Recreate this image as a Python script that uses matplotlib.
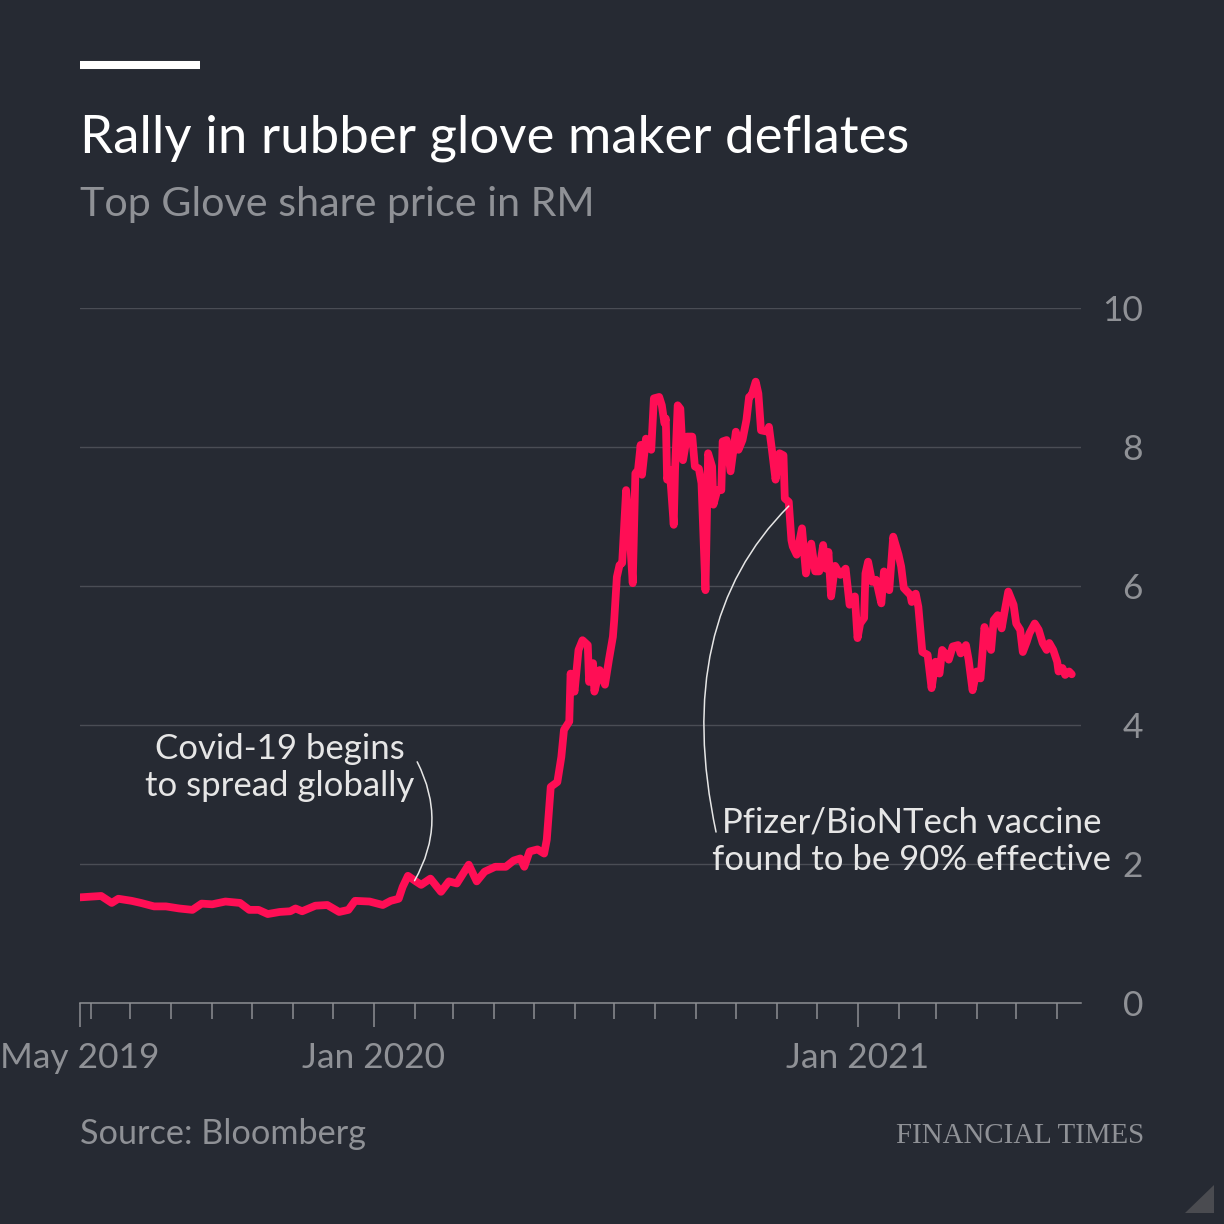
import matplotlib
matplotlib.use("Agg")
import matplotlib.pyplot as plt
from matplotlib.lines import Line2D
from matplotlib.patches import Polygon
import numpy as np

# Top Glove share price (RM)
dates = [
    # 2019
    "2019-05-24", "2019-06-01", "2019-06-09", "2019-06-17", "2019-06-22",
    "2019-07-02", "2019-07-09", "2019-07-19", "2019-07-28",
    "2019-08-07", "2019-08-17", "2019-08-24",
    "2019-09-01", "2019-09-11", "2019-09-22", "2019-09-29",
    "2019-10-06", "2019-10-13", "2019-10-22", "2019-10-30",
    "2019-11-03", "2019-11-08", "2019-11-18", "2019-11-27",
    "2019-12-06", "2019-12-13", "2019-12-18", "2019-12-29",
    # 2020
    "2020-01-08", "2020-01-14", "2020-01-20", "2020-01-23", "2020-01-27", "2020-01-30",
    "2020-02-02", "2020-02-06", "2020-02-13", "2020-02-21", "2020-02-27",
    "2020-03-04", "2020-03-08", "2020-03-13", "2020-03-19", "2020-03-25",
    "2020-04-02", "2020-04-10", "2020-04-16", "2020-04-21", "2020-04-24", "2020-04-28",
    "2020-05-04", "2020-05-09", "2020-05-11", "2020-05-14", "2020-05-19",
    "2020-05-22", "2020-05-24", "2020-05-28", "2020-05-29",
    "2020-06-01", "2020-06-04", "2020-06-07", "2020-06-11", "2020-06-12",
    "2020-06-15", "2020-06-16", "2020-06-20", "2020-06-24", "2020-06-27", "2020-06-30",
    "2020-07-01", "2020-07-03", "2020-07-05", "2020-07-07", "2020-07-10", "2020-07-12",
    "2020-07-15", "2020-07-17", "2020-07-19", "2020-07-21", "2020-07-22", "2020-07-25",
    "2020-07-29", "2020-07-31",
    "2020-08-04", "2020-08-06", "2020-08-08", "2020-08-09", "2020-08-10", "2020-08-12",
    "2020-08-15", "2020-08-16", "2020-08-18", "2020-08-20", "2020-08-22", "2020-08-25",
    "2020-08-29", "2020-08-31",
    "2020-09-03", "2020-09-05", "2020-09-08", "2020-09-10", "2020-09-13", "2020-09-14",
    "2020-09-17", "2020-09-20", "2020-09-21", "2020-09-24", "2020-09-27",
    "2020-10-01", "2020-10-03", "2020-10-06", "2020-10-09", "2020-10-11", "2020-10-13",
    "2020-10-16", "2020-10-18", "2020-10-20", "2020-10-25", "2020-10-26", "2020-10-28",
    "2020-10-31",
    "2020-11-03", "2020-11-06", "2020-11-07", "2020-11-10", "2020-11-12", "2020-11-13",
    "2020-11-16", "2020-11-20", "2020-11-23", "2020-11-27", "2020-11-30",
    "2020-12-03", "2020-12-06", "2020-12-08", "2020-12-10", "2020-12-12", "2020-12-15",
    "2020-12-19", "2020-12-23", "2020-12-26", "2020-12-30",
    # 2021
    "2021-01-01", "2021-01-03", "2021-01-06", "2021-01-07", "2021-01-09", "2021-01-12",
    "2021-01-15", "2021-01-19", "2021-01-21", "2021-01-25", "2021-01-28",
    "2021-02-01", "2021-02-03", "2021-02-05", "2021-02-10", "2021-02-11", "2021-02-14",
    "2021-02-16", "2021-02-19", "2021-02-23", "2021-02-26",
    "2021-03-01", "2021-03-04", "2021-03-06", "2021-03-09", "2021-03-11", "2021-03-14",
    "2021-03-18", "2021-03-20", "2021-03-24", "2021-03-26", "2021-03-29",
    "2021-04-01", "2021-04-04", "2021-04-07", "2021-04-09", "2021-04-12", "2021-04-14",
    "2021-04-17", "2021-04-20", "2021-04-22", "2021-04-25", "2021-04-29",
    "2021-05-01", "2021-05-04", "2021-05-06", "2021-05-09", "2021-05-11", "2021-05-15",
    "2021-05-18", "2021-05-21", "2021-05-24", "2021-05-26", "2021-05-29",
    "2021-06-01", "2021-06-02", "2021-06-05", "2021-06-07", "2021-06-10", "2021-06-12",
]
prices = [
    # 2019
    1.52, 1.53, 1.54, 1.44, 1.50,
    1.47, 1.44, 1.39, 1.39,
    1.36, 1.34, 1.43,
    1.42, 1.46, 1.44, 1.34,
    1.34, 1.28, 1.31, 1.32,
    1.36, 1.32, 1.40, 1.41,
    1.31, 1.34, 1.47, 1.46,
    # 2020
    1.41, 1.47, 1.50, 1.67, 1.83, 1.79,
    1.75, 1.70, 1.79, 1.60, 1.75,
    1.72, 1.84, 1.99, 1.75, 1.89,
    1.96, 1.96, 2.05, 2.08, 1.96, 2.18,
    2.21, 2.15, 2.35, 3.11, 3.18,
    3.54, 3.93, 4.05, 4.74,
    4.48, 5.08, 5.22, 5.15, 4.62,
    4.89, 4.48, 4.79, 4.58, 4.94, 5.27,
    5.51, 6.13, 6.30, 6.33, 7.38, 6.95,
    6.04, 7.62, 7.67, 8.03, 7.60, 8.12,
    7.96, 8.70,
    8.72, 8.60, 8.34, 8.41, 7.53, 7.67,
    6.88, 7.67, 8.60, 8.55, 7.81, 8.15,
    8.15, 7.72,
    7.69, 7.48, 5.94, 7.91, 7.72, 7.17,
    7.38, 7.38, 8.08, 8.10, 7.65,
    8.22, 7.96, 8.10, 8.39, 8.72, 8.75,
    8.94, 8.77, 8.24, 8.22, 8.29, 8.00,
    7.53,
    7.91, 7.88, 7.26, 7.21, 6.66, 6.57,
    6.45, 6.83, 6.18, 6.61, 6.21,
    6.21, 6.59, 6.25, 6.49, 5.85, 6.29,
    6.16, 6.25, 5.73, 5.85,
    # 2021
    5.25, 5.46, 5.54, 6.18, 6.35, 6.06,
    6.09, 5.75, 6.21, 5.94, 6.71,
    6.45, 6.28, 5.97, 5.87, 5.77, 5.89,
    5.70, 5.05, 5.01, 4.53,
    4.91, 4.74, 5.08, 5.01, 4.94, 5.13,
    5.15, 5.03, 5.15, 4.94, 4.50,
    4.77, 4.67, 5.41, 5.22, 5.08, 5.51,
    5.58, 5.39, 5.61, 5.92, 5.73,
    5.46, 5.37, 5.05, 5.20, 5.32, 5.46,
    5.37, 5.18, 5.08, 5.18, 5.08,
    4.91, 4.77, 4.82, 4.72, 4.77, 4.73,
]
assert len(dates) == len(prices)

x_start, x_end = "2019-05-24", "2021-06-19"
major_dates = ["2019-05-24", "2020-01-01", "2021-01-01"]
major_labels = ["May 2019", "Jan 2020", "Jan 2021"]
y_ticks = [0, 2, 4, 6, 8, 10]

title = "Rally in rubber glove maker deflates"
subtitle = "Top Glove share price in RM"
source = "Source: Bloomberg"
note_covid = "Covid-19 begins\nto spread globally"
note_vaccine = "Pfizer/BioNTech vaccine\nfound to be 90% effective"

BG = "#262a33"
PINK = "#ff0e55"
GRID = "#4a4d55"
AXIS = "#8c8e93"
GREY_TXT = "#8f9196"
NOTE = "#e6e6e6"

plt.rcParams["font.family"] = ["Lato", "DejaVu Sans"]

W = 1224
fig = plt.figure(figsize=(12.24, 12.24), dpi=100, facecolor=BG)
ax = fig.add_axes([80 / W, 1 - 1003 / W, (1081 - 80) / W, (1003 - 308) / W])
ax.set_facecolor(BG)

d = np.array(dates, dtype="datetime64[D]")
ax.plot(d, prices, color=PINK, lw=5.6, solid_joinstyle="round",
        solid_capstyle="round", zorder=3)

ax.set_xlim(np.datetime64(x_start), np.datetime64(x_end))
ax.set_ylim(0, 10)

# x axis: labelled majors + monthly minors
ax.set_xticks(np.array(major_dates, dtype="datetime64[D]"))
ax.set_xticklabels(major_labels)
months = np.arange(np.datetime64("2019-06"), np.datetime64("2021-07"),
                   dtype="datetime64[M]")
months = [m for m in months if str(m)[5:] != "01"]
ax.set_xticks(np.array(months, dtype="datetime64[D]"), minor=True)
ax.tick_params(axis="x", which="major", length=17.3, width=1.1, color=AXIS,
               labelsize=25.5, labelcolor=GREY_TXT, pad=11)
ax.tick_params(axis="x", which="minor", length=11.5, width=1.1, color=AXIS)

# y axis on the right, no tick marks
ax.set_yticks(y_ticks)
ax.yaxis.tick_right()
ax.tick_params(axis="y", length=0, pad=44.6, labelsize=25.5, labelcolor=GREY_TXT)
for lbl in ax.get_yticklabels():
    lbl.set_horizontalalignment("right")
ax.grid(axis="y", color=GRID, lw=1.0, zorder=0)

for s in ("top", "left", "right"):
    ax.spines[s].set_visible(False)
ax.spines["bottom"].set_color(AXIS)
ax.spines["bottom"].set_linewidth(1.1)
ax.spines["bottom"].set_zorder(4)

# annotations
ax.text(np.datetime64("2020-02-01"), 3.39, note_covid, ha="right", va="center",
        multialignment="center", fontsize=25, color=NOTE, linespacing=1.2)
ax.annotate("", xy=(np.datetime64("2020-02-01"), 1.76),
            xytext=(np.datetime64("2020-02-03"), 3.47),
            arrowprops=dict(arrowstyle="-", color=NOTE, lw=1.1,
                            shrinkA=0, shrinkB=0,
                            connectionstyle="arc3,rad=-0.27"))

ax.text(np.datetime64("2021-02-11"), 2.33, note_vaccine, ha="center",
        va="center", multialignment="center", fontsize=25, color=NOTE,
        linespacing=1.2)
ax.annotate("", xy=(np.datetime64("2020-11-10"), 7.15),
            xytext=(np.datetime64("2020-09-16"), 2.46),
            arrowprops=dict(arrowstyle="-", color=NOTE, lw=1.1,
                            shrinkA=0, shrinkB=0,
                            connectionstyle="angle3,angleA=102,angleB=45"))

# header and footer
fig.add_artist(Line2D([80 / W, 200 / W], [1 - 65 / W, 1 - 65 / W],
                      color="white", lw=5.8, solid_capstyle="butt"))
fig.text(80 / W, 1 - 152 / W, title, color="white", fontsize=38, va="baseline")
fig.text(80 / W, 1 - 216 / W, subtitle, color=GREY_TXT, fontsize=29.7, va="baseline")
fig.text(80 / W, 1 - 1144 / W, source, color=GREY_TXT, fontsize=24.7, va="baseline")
fig.text(1144 / W, 1 - 1143 / W, "FINANCIAL TIMES", color=GREY_TXT, fontsize=20.8,
         va="baseline", ha="right", family=["Liberation Serif", "DejaVu Serif"])
fig.add_artist(Polygon([[1214 / W, 1 - 1185 / W], [1214 / W, 1 - 1213 / W],
                        [1185 / W, 1 - 1213 / W]], closed=True,
                       facecolor="#4a4b50", edgecolor="none"))

fig.savefig("out.png", dpi=100, facecolor=BG)
